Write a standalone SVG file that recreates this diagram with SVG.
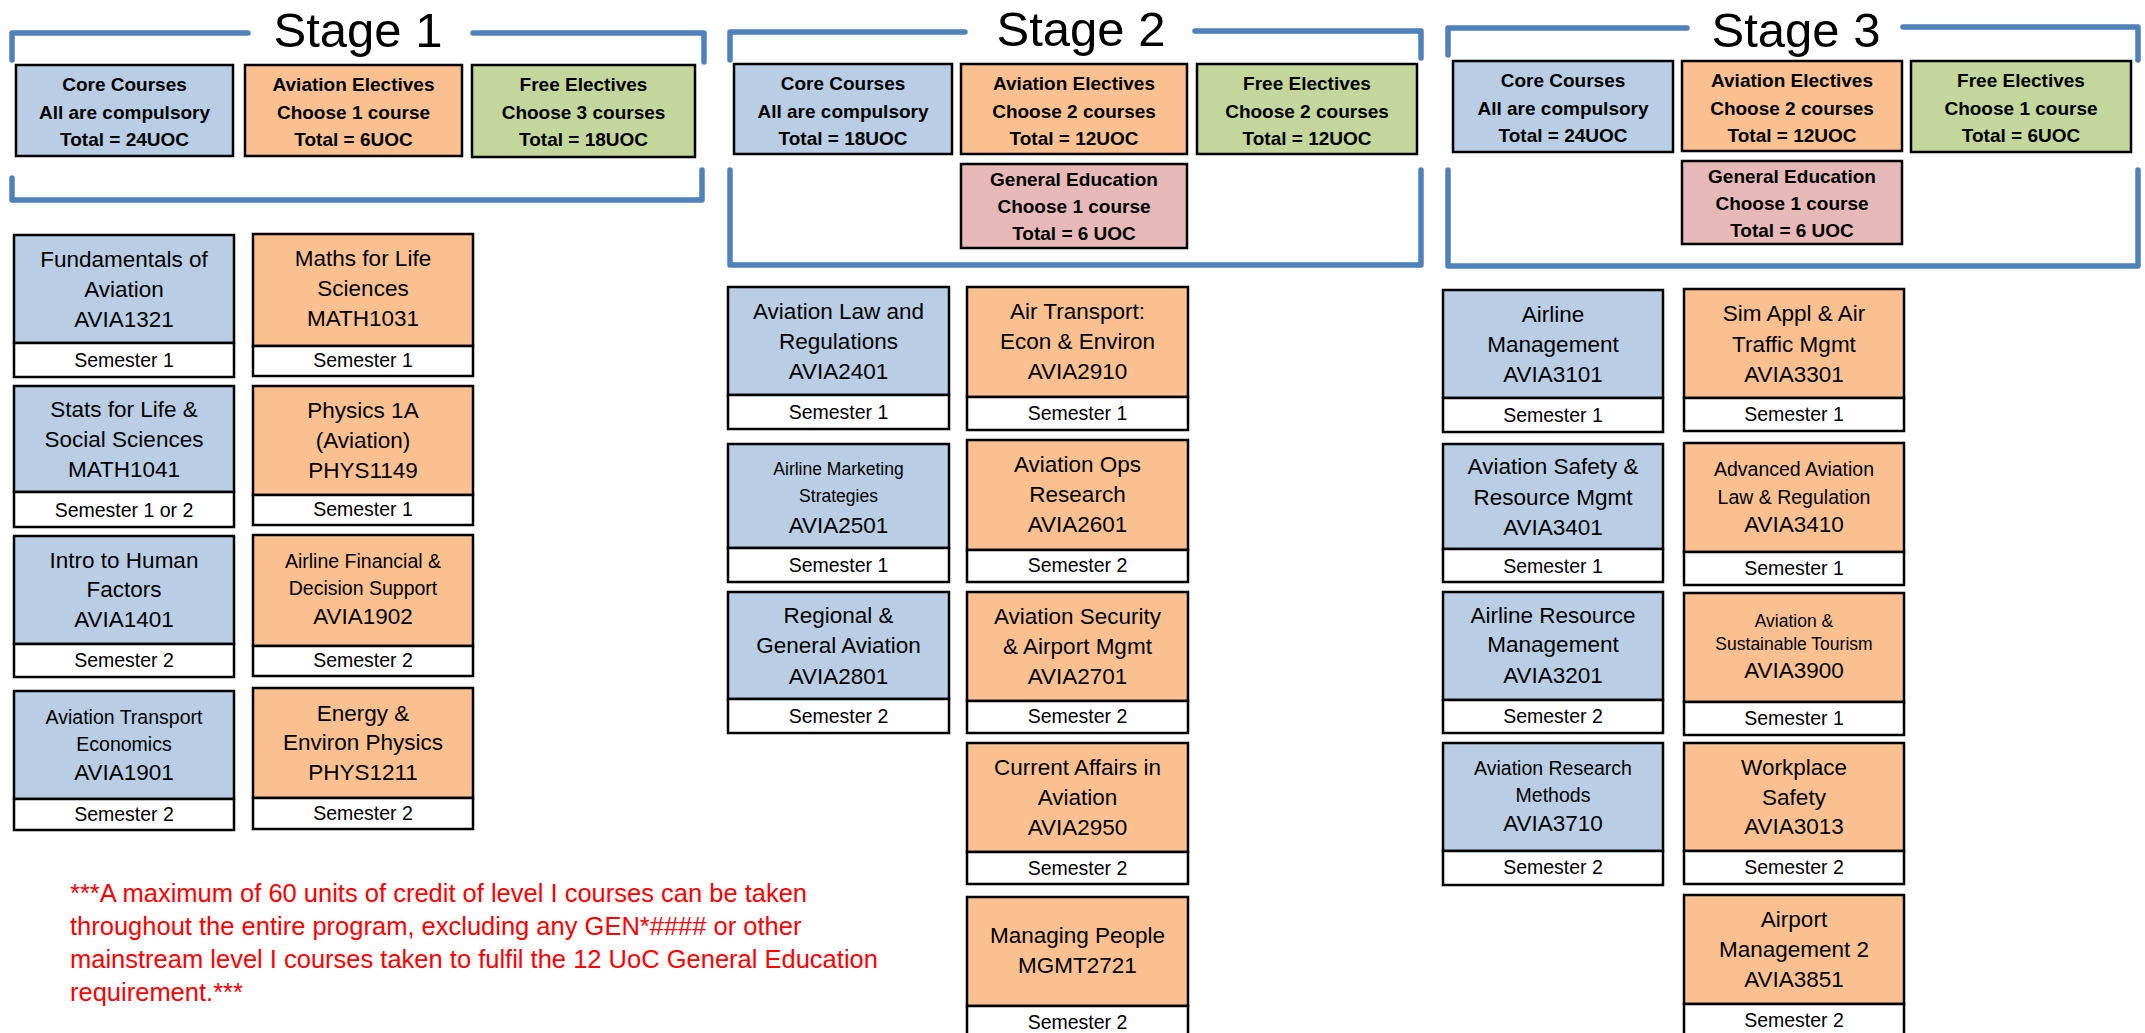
<svg xmlns="http://www.w3.org/2000/svg" width="2145" height="1033" viewBox="0 0 2145 1033">
<style>
.b{fill:#B9CDE5;stroke:#000;stroke-width:2.5}
.o{fill:#FAC090;stroke:#000;stroke-width:2.5}
.g{fill:#C3D69B;stroke:#000;stroke-width:2.5}
.p{fill:#E6B9B8;stroke:#000;stroke-width:2.5}
.w{fill:#FFFFFF;stroke:#000;stroke-width:2.5}
text{font-family:'Liberation Sans',Arial,sans-serif;text-anchor:middle;fill:#000}
.n{font-size:22.5px}
.s{font-size:19.5px}
.x{font-size:17.5px}
.m{font-size:19.5px}
.h{font-size:19px;font-weight:bold}
.ti{font-size:49px}
.br{fill:none;stroke:#4F81BD;stroke-width:5.5;stroke-linejoin:round;stroke-linecap:round}
.note{fill:#FF0000;font-size:25.5px;text-anchor:start}
</style>
<rect width="2145" height="1033" fill="#FFFFFF"/>

<g id="brackets">
<path class="br" d="M12,60 L12,33 L248,33 M473,33 L704,33 L704,62"/>
<path class="br" d="M12,178 L12,200 L702,200 L702,170"/>
<path class="br" d="M730,60 L730,32 L965,32 M1195,31 L1421,31 L1421,58"/>
<path class="br" d="M730,170 L730,265 L1421,265 L1421,170"/>
<path class="br" d="M1448,55 L1448,28 L1687,28 M1903,27 L2138,27 L2138,60"/>
<path class="br" d="M1448,170 L1448,266 L2138,266 L2138,170"/>
</g>

<g id="titles">
<text class="ti" x="358" y="47">Stage 1</text>
<text class="ti" x="1081" y="46">Stage 2</text>
<text class="ti" x="1796" y="47">Stage 3</text>
</g>

<!-- Stage 1 headers -->
<g id="s1-core"><rect class="b" x="16" y="65" width="217" height="91"/>
<text class="h" x="124.5" y="91">Core Courses</text><text class="h" x="124.5" y="119">All are compulsory</text><text class="h" x="124.5" y="146">Total = 24UOC</text></g>
<g id="s1-aviel"><rect class="o" x="245" y="65" width="217" height="91"/>
<text class="h" x="353.5" y="91">Aviation Electives</text><text class="h" x="353.5" y="119">Choose 1 course</text><text class="h" x="353.5" y="146">Total = 6UOC</text></g>
<g id="s1-free"><rect class="g" x="472" y="65" width="223" height="92"/>
<text class="h" x="583.5" y="91">Free Electives</text><text class="h" x="583.5" y="119">Choose 3 courses</text><text class="h" x="583.5" y="146">Total = 18UOC</text></g>

<!-- Stage 2 headers -->
<g id="s2-core"><rect class="b" x="734" y="64" width="218" height="90"/>
<text class="h" x="843" y="90">Core Courses</text><text class="h" x="843" y="118">All are compulsory</text><text class="h" x="843" y="145">Total = 18UOC</text></g>
<g id="s2-aviel"><rect class="o" x="961" y="64" width="226" height="90"/>
<text class="h" x="1074" y="90">Aviation Electives</text><text class="h" x="1074" y="118">Choose 2 courses</text><text class="h" x="1074" y="145">Total = 12UOC</text></g>
<g id="s2-free"><rect class="g" x="1197" y="64" width="220" height="90"/>
<text class="h" x="1307" y="90">Free Electives</text><text class="h" x="1307" y="118">Choose 2 courses</text><text class="h" x="1307" y="145">Total = 12UOC</text></g>
<g id="s2-gened"><rect class="p" x="961" y="164" width="226" height="84"/>
<text class="h" x="1074" y="186">General Education</text><text class="h" x="1074" y="213">Choose 1 course</text><text class="h" x="1074" y="240">Total = 6 UOC</text></g>

<!-- Stage 3 headers -->
<g id="s3-core"><rect class="b" x="1453" y="61" width="220" height="91"/>
<text class="h" x="1563" y="87">Core Courses</text><text class="h" x="1563" y="115">All are compulsory</text><text class="h" x="1563" y="142">Total = 24UOC</text></g>
<g id="s3-aviel"><rect class="o" x="1682" y="61" width="220" height="90"/>
<text class="h" x="1792" y="87">Aviation Electives</text><text class="h" x="1792" y="115">Choose 2 courses</text><text class="h" x="1792" y="142">Total = 12UOC</text></g>
<g id="s3-free"><rect class="g" x="1911" y="61" width="220" height="91"/>
<text class="h" x="2021" y="87">Free Electives</text><text class="h" x="2021" y="115">Choose 1 course</text><text class="h" x="2021" y="142">Total = 6UOC</text></g>
<g id="s3-gened"><rect class="p" x="1682" y="161" width="220" height="83"/>
<text class="h" x="1792" y="183">General Education</text><text class="h" x="1792" y="210">Choose 1 course</text><text class="h" x="1792" y="237">Total = 6 UOC</text></g>

<!-- Stage 1 courses -->
<g id="AVIA1321"><rect class="b" x="14" y="235" width="220" height="108"/><rect class="w" x="14" y="343" width="220" height="34"/>
<text class="n" x="124" y="267">Fundamentals of</text><text class="n" x="124" y="297">Aviation</text><text class="n" x="124" y="327">AVIA1321</text><text class="m" x="124" y="367">Semester 1</text></g>
<g id="MATH1041"><rect class="b" x="14" y="386" width="220" height="106"/><rect class="w" x="14" y="492" width="220" height="35"/>
<text class="n" x="124" y="417">Stats for Life &amp;</text><text class="n" x="124" y="447">Social Sciences</text><text class="n" x="124" y="477">MATH1041</text><text class="m" x="124" y="517">Semester 1 or 2</text></g>
<g id="AVIA1401"><rect class="b" x="14" y="536" width="220" height="108"/><rect class="w" x="14" y="644" width="220" height="33"/>
<text class="n" x="124" y="568">Intro to Human</text><text class="n" x="124" y="597">Factors</text><text class="n" x="124" y="627">AVIA1401</text><text class="m" x="124" y="667">Semester 2</text></g>
<g id="AVIA1901"><rect class="b" x="14" y="691" width="220" height="108"/><rect class="w" x="14" y="799" width="220" height="31"/>
<text class="s" x="124" y="724">Aviation Transport</text><text class="s" x="124" y="751">Economics</text><text class="n" x="124" y="780">AVIA1901</text><text class="m" x="124" y="821">Semester 2</text></g>

<g id="MATH1031"><rect class="o" x="253" y="234" width="220" height="112"/><rect class="w" x="253" y="346" width="220" height="30"/>
<text class="n" x="363" y="266">Maths for Life</text><text class="n" x="363" y="296">Sciences</text><text class="n" x="363" y="326">MATH1031</text><text class="m" x="363" y="367">Semester 1</text></g>
<g id="PHYS1149"><rect class="o" x="253" y="386" width="220" height="109"/><rect class="w" x="253" y="495" width="220" height="30"/>
<text class="n" x="363" y="418">Physics 1A</text><text class="n" x="363" y="448">(Aviation)</text><text class="n" x="363" y="478">PHYS1149</text><text class="m" x="363" y="516">Semester 1</text></g>
<g id="AVIA1902"><rect class="o" x="253" y="535" width="220" height="111"/><rect class="w" x="253" y="646" width="220" height="30"/>
<text class="s" x="363" y="568">Airline Financial &amp;</text><text class="s" x="363" y="595">Decision Support</text><text class="n" x="363" y="624">AVIA1902</text><text class="m" x="363" y="667">Semester 2</text></g>
<g id="PHYS1211"><rect class="o" x="253" y="688" width="220" height="110"/><rect class="w" x="253" y="798" width="220" height="31"/>
<text class="n" x="363" y="721">Energy &amp;</text><text class="n" x="363" y="750">Environ Physics</text><text class="n" x="363" y="780">PHYS1211</text><text class="m" x="363" y="820">Semester 2</text></g>

<!-- Stage 2 courses -->
<g id="AVIA2401"><rect class="b" x="728" y="287" width="221" height="108"/><rect class="w" x="728" y="395" width="221" height="34"/>
<text class="n" x="838.5" y="319">Aviation Law and</text><text class="n" x="838.5" y="349">Regulations</text><text class="n" x="838.5" y="379">AVIA2401</text><text class="m" x="838.5" y="419">Semester 1</text></g>
<g id="AVIA2501"><rect class="b" x="728" y="444" width="221" height="104"/><rect class="w" x="728" y="548" width="221" height="34"/>
<text class="x" x="838.5" y="475">Airline Marketing</text><text class="x" x="838.5" y="502">Strategies</text><text class="n" x="838.5" y="533">AVIA2501</text><text class="m" x="838.5" y="572">Semester 1</text></g>
<g id="AVIA2801"><rect class="b" x="728" y="592" width="221" height="107"/><rect class="w" x="728" y="699" width="221" height="34"/>
<text class="n" x="838.5" y="623">Regional &amp;</text><text class="n" x="838.5" y="653">General Aviation</text><text class="n" x="838.5" y="684">AVIA2801</text><text class="m" x="838.5" y="723">Semester 2</text></g>

<g id="AVIA2910"><rect class="o" x="967" y="287" width="221" height="110"/><rect class="w" x="967" y="397" width="221" height="33"/>
<text class="n" x="1077.5" y="319">Air Transport:</text><text class="n" x="1077.5" y="349">Econ &amp; Environ</text><text class="n" x="1077.5" y="379">AVIA2910</text><text class="m" x="1077.5" y="420">Semester 1</text></g>
<g id="AVIA2601"><rect class="o" x="967" y="440" width="221" height="110"/><rect class="w" x="967" y="550" width="221" height="32"/>
<text class="n" x="1077.5" y="472">Aviation Ops</text><text class="n" x="1077.5" y="502">Research</text><text class="n" x="1077.5" y="532">AVIA2601</text><text class="m" x="1077.5" y="572">Semester 2</text></g>
<g id="AVIA2701"><rect class="o" x="967" y="592" width="221" height="109"/><rect class="w" x="967" y="701" width="221" height="32"/>
<text class="n" x="1077.5" y="624">Aviation Security</text><text class="n" x="1077.5" y="654">&amp; Airport Mgmt</text><text class="n" x="1077.5" y="684">AVIA2701</text><text class="m" x="1077.5" y="723">Semester 2</text></g>
<g id="AVIA2950"><rect class="o" x="967" y="743" width="221" height="109"/><rect class="w" x="967" y="852" width="221" height="32"/>
<text class="n" x="1077.5" y="775">Current Affairs in</text><text class="n" x="1077.5" y="805">Aviation</text><text class="n" x="1077.5" y="835">AVIA2950</text><text class="m" x="1077.5" y="875">Semester 2</text></g>
<g id="MGMT2721"><rect class="o" x="967" y="897" width="221" height="109"/><rect class="w" x="967" y="1006" width="221" height="34"/>
<text class="n" x="1077.5" y="943">Managing People</text><text class="n" x="1077.5" y="973">MGMT2721</text><text class="m" x="1077.5" y="1029">Semester 2</text></g>

<!-- Stage 3 courses -->
<g id="AVIA3101"><rect class="b" x="1443" y="290" width="220" height="108"/><rect class="w" x="1443" y="398" width="220" height="34"/>
<text class="n" x="1553" y="322">Airline</text><text class="n" x="1553" y="352">Management</text><text class="n" x="1553" y="382">AVIA3101</text><text class="m" x="1553" y="422">Semester 1</text></g>
<g id="AVIA3401"><rect class="b" x="1443" y="444" width="220" height="105"/><rect class="w" x="1443" y="549" width="220" height="33"/>
<text class="n" x="1553" y="474">Aviation Safety &amp;</text><text class="n" x="1553" y="505">Resource Mgmt</text><text class="n" x="1553" y="535">AVIA3401</text><text class="m" x="1553" y="573">Semester 1</text></g>
<g id="AVIA3201"><rect class="b" x="1443" y="592" width="220" height="108"/><rect class="w" x="1443" y="700" width="220" height="33"/>
<text class="n" x="1553" y="623">Airline Resource</text><text class="n" x="1553" y="652">Management</text><text class="n" x="1553" y="683">AVIA3201</text><text class="m" x="1553" y="723">Semester 2</text></g>
<g id="AVIA3710"><rect class="b" x="1443" y="743" width="220" height="108"/><rect class="w" x="1443" y="851" width="220" height="34"/>
<text class="s" x="1553" y="775">Aviation Research</text><text class="s" x="1553" y="802">Methods</text><text class="n" x="1553" y="831">AVIA3710</text><text class="m" x="1553" y="874">Semester 2</text></g>

<g id="AVIA3301"><rect class="o" x="1684" y="289" width="220" height="109"/><rect class="w" x="1684" y="398" width="220" height="33"/>
<text class="n" x="1794" y="321">Sim Appl &amp; Air</text><text class="n" x="1794" y="352">Traffic Mgmt</text><text class="n" x="1794" y="382">AVIA3301</text><text class="m" x="1794" y="421">Semester 1</text></g>
<g id="AVIA3410"><rect class="o" x="1684" y="443" width="220" height="109"/><rect class="w" x="1684" y="552" width="220" height="33"/>
<text class="s" x="1794" y="476">Advanced Aviation</text><text class="s" x="1794" y="504">Law &amp; Regulation</text><text class="n" x="1794" y="532">AVIA3410</text><text class="m" x="1794" y="575">Semester 1</text></g>
<g id="AVIA3900"><rect class="o" x="1684" y="593" width="220" height="109"/><rect class="w" x="1684" y="702" width="220" height="33"/>
<text class="x" x="1794" y="627">Aviation &amp;</text><text class="x" x="1794" y="650">Sustainable Tourism</text><text class="n" x="1794" y="678">AVIA3900</text><text class="m" x="1794" y="725">Semester 1</text></g>
<g id="AVIA3013"><rect class="o" x="1684" y="743" width="220" height="108"/><rect class="w" x="1684" y="851" width="220" height="33"/>
<text class="n" x="1794" y="775">Workplace</text><text class="n" x="1794" y="805">Safety</text><text class="n" x="1794" y="834">AVIA3013</text><text class="m" x="1794" y="874">Semester 2</text></g>
<g id="AVIA3851"><rect class="o" x="1684" y="895" width="220" height="109"/><rect class="w" x="1684" y="1004" width="220" height="34"/>
<text class="n" x="1794" y="927">Airport</text><text class="n" x="1794" y="957">Management 2</text><text class="n" x="1794" y="987">AVIA3851</text><text class="m" x="1794" y="1027">Semester 2</text></g>

<g id="note">
<text class="note" x="70" y="902">***A maximum of 60 units of credit of level I courses can be taken</text>
<text class="note" x="70" y="935">throughout the entire program, excluding any GEN*#### or other</text>
<text class="note" x="70" y="968">mainstream level I courses taken to fulfil the 12 UoC General Education</text>
<text class="note" x="70" y="1001">requirement.***</text>
</g>
</svg>
